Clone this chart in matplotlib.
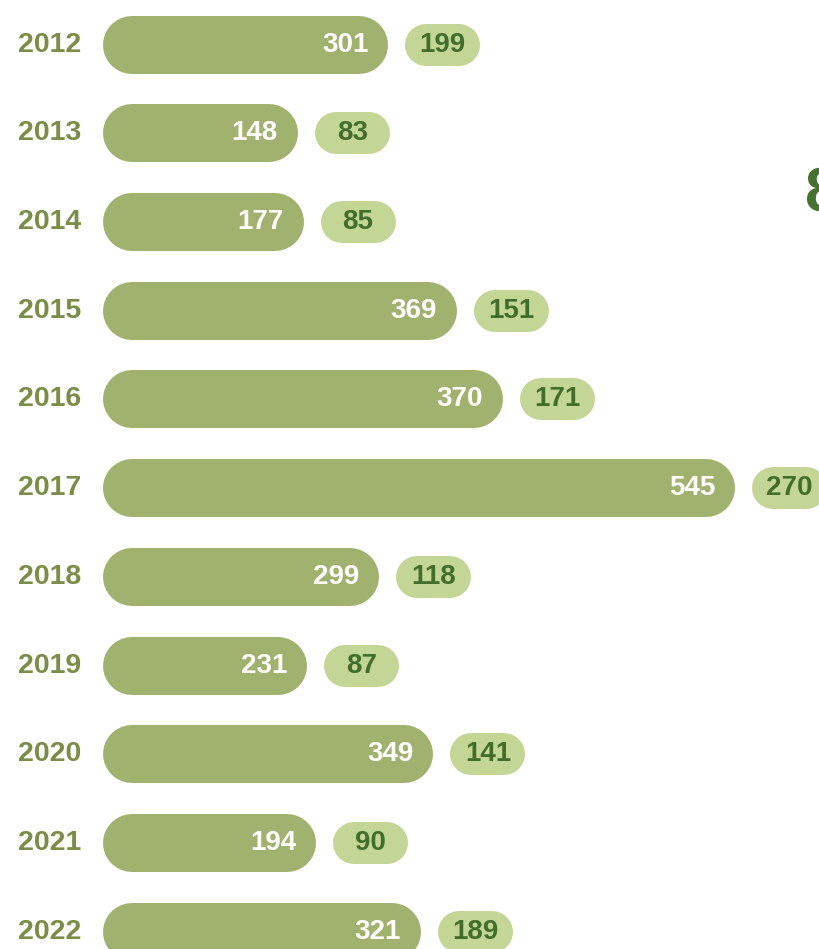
import matplotlib
matplotlib.use("Agg")
import matplotlib.pyplot as plt

# ---- data ----
years = ["2012", "2013", "2014", "2015", "2016", "2017", "2018", "2019", "2020", "2021", "2022"]
primary = [301, 148, 177, 369, 370, 545, 299, 231, 349, 194, 321]      # white labels in bars
secondary = [199, 83, 85, 151, 171, 270, 118, 87, 141, 90, 189]       # labels in side pills
bar_size = [246, 168, 173, 305, 345, 545, 238, 176, 285, 184, 274]   # drawn bar extent
headline = "8"

# ---- style ----
BAR = "#A0B26E"
PILL = "#C4D696"
PILL_TXT = "#426E2C"
YEAR_TXT = "#7B8D46"
HEAD_TXT = "#46712F"
FONT = ["Liberation Sans", "DejaVu Sans"]

W, H, DPI = 820, 949, 100
fig = plt.figure(figsize=(W / DPI, H / DPI), dpi=DPI)
ax = fig.add_axes([0, 0, 1, 1])
ax.set_axis_off()

px_x = 632 / 545.0          # pixels per value unit
row_px = 88.69              # pixels per row
x0_px, y0_px = 103, 44.7
ax.set_xlim(-x0_px / px_x, (W - x0_px) / px_x)
ax.set_ylim((H - y0_px) / row_px, -y0_px / row_px)

def px2x(p):
    return p / px_x

def px2y(p):
    return p / row_px

def pt(p):
    return p * 72.0 / DPI

BAR_H, PILL_H, PILL_W, GAP = 58, 42, 75, 17

for i, (yr, v1, v2, sz) in enumerate(zip(years, primary, secondary, bar_size)):
    # main bar: thick line with round caps
    r = px2x(BAR_H / 2)
    ax.plot([r, sz - r], [i, i], color=BAR, lw=pt(BAR_H),
            solid_capstyle="round", zorder=2)
    ax.text(sz - px2x(20), i, str(v1), ha="right", va="center",
            color="white", fontsize=20, fontweight="bold", family=FONT, zorder=3)
    # side pill
    p0 = sz + px2x(GAP)
    rp = px2x(PILL_H / 2)
    ax.plot([p0 + rp, p0 + px2x(PILL_W) - rp], [i, i], color=PILL,
            lw=pt(PILL_H), solid_capstyle="round", zorder=2)
    ax.text(p0 + px2x(PILL_W) / 2, i, str(v2), ha="center", va="center",
            color=PILL_TXT, fontsize=20, fontweight="bold", family=FONT, zorder=3)
    # year label
    ax.text(-px2x(53), i, yr, ha="center", va="center",
            color=YEAR_TXT, fontsize=20.5, fontweight="bold", family=FONT)

ax.text(px2x(805 - x0_px), px2y(195 - y0_px), headline, ha="left", va="center",
        color=HEAD_TXT, fontsize=45, fontweight="bold", family=FONT, clip_on=False)

fig.savefig("out.png", dpi=DPI)
